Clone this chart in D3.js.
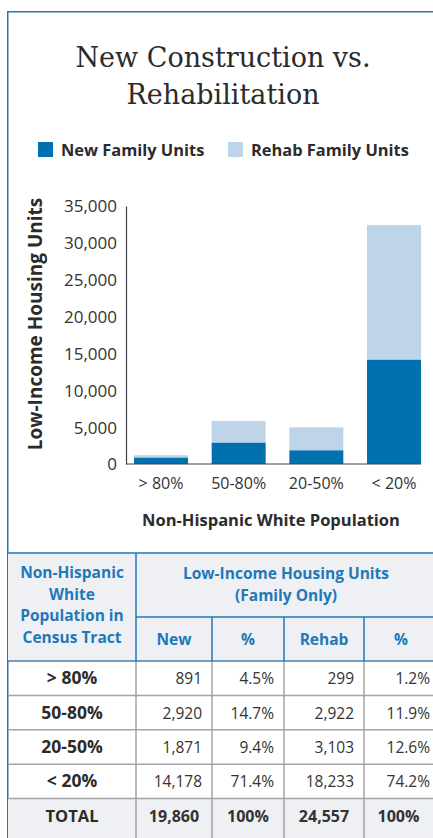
<!DOCTYPE html>
<html>
<head>
<meta charset="utf-8">
<script src="https://cdn.jsdelivr.net/npm/d3@7"></script>
<style>
  html, body { margin: 0; padding: 0; background: #fff; }
  svg { display: block; }
</style>
</head>
<body>
<svg id="chart" width="433" height="838"></svg>
<script>
// Census-tract groups by share of non-Hispanic white population
const categories = ["> 80%", "50-80%", "20-50%", "< 20%"];
// Low-income family housing units
const newUnits = [891, 2920, 1871, 14178];
const rehabUnits = [299, 2922, 3103, 18233];
const yTicks = [0, 5000, 10000, 15000, 20000, 25000, 30000, 35000];
const seriesNames = ["New Family Units", "Rehab Family Units"];
const seriesColors = ["#0071ae", "#bed5e9"];

const svg = d3.select("#chart");
const W = 433;
const sans = "'Open Sans', sans-serif";
const ink = "#2b2b2b";
const blue = "#1f78b8";

// frame
svg.append("path")
  .attr("d", `M7.75,838 V11.75 H433`)
  .attr("fill", "none").attr("stroke", blue).attr("stroke-width", 1.5);

// title
const title = svg.append("text")
  .attr("text-anchor", "middle")
  .attr("font-family", "'DejaVu Serif', serif")
  .attr("font-size", 27)
  .attr("fill", ink);
title.append("tspan").attr("x", 223).attr("y", 67).text("New Construction vs.");
title.append("tspan").attr("x", 223).attr("y", 104).text("Rehabilitation");

// legend
const legendX = [38, 228];
seriesNames.forEach((name, i) => {
  svg.append("rect").attr("x", legendX[i]).attr("y", 142)
    .attr("width", 15).attr("height", 15).attr("fill", seriesColors[i]);
  svg.append("text").attr("x", legendX[i] + 23).attr("y", 156)
    .attr("font-family", sans).attr("font-weight", 700).attr("font-size", 16.4)
    .attr("fill", ink).text(name);
});

// chart scales
const x = d3.scaleBand().domain(categories).range([126, 429]).paddingInner(0.305).paddingOuter(0.103);
const y = d3.scaleLinear().domain([0, 35000]).range([464, 206]);

const stackData = categories.map((c, i) => ({ cat: c, newU: newUnits[i], rehab: rehabUnits[i] }));
const stacked = d3.stack().keys(["newU", "rehab"])(stackData);

svg.append("g").selectAll("g").data(stacked).join("g")
  .attr("fill", (d, i) => seriesColors[i])
  .selectAll("rect").data(d => d).join("rect")
  .attr("x", d => x(d.data.cat))
  .attr("width", x.bandwidth())
  .attr("y", d => y(d[1]))
  .attr("height", d => y(d[0]) - y(d[1]));

// y axis
const yAxis = svg.append("g").attr("transform", "translate(126,0)")
  .call(d3.axisLeft(y).tickValues(yTicks).tickSize(0).tickPadding(9).tickFormat(d3.format(",")));
yAxis.select(".domain").attr("stroke", "#444").attr("stroke-width", 1.2);
yAxis.selectAll("text").attr("font-family", sans).attr("font-weight", 400).attr("font-size", 17)
  .attr("fill", "#333").attr("dy", "0.35em");

// x axis
const xAxis = svg.append("g").attr("transform", "translate(0,464)")
  .call(d3.axisBottom(x).tickSize(0).tickPadding(14));
xAxis.select(".domain").attr("d", "M126,0H421").attr("stroke", "#444").attr("stroke-width", 1.2);
xAxis.selectAll("text").attr("font-family", sans).attr("font-weight", 400).attr("font-size", 16).attr("fill", "#333");

// axis titles
svg.append("text").attr("x", 271).attr("y", 526).attr("text-anchor", "middle")
  .attr("font-family", sans).attr("font-weight", 700).attr("font-size", 16.5)
  .attr("fill", ink).text("Non-Hispanic White Population");
svg.append("text").attr("transform", "translate(42,324) rotate(-90)")
  .attr("text-anchor", "middle")
  .attr("font-family", sans).attr("font-weight", 700).attr("font-size", 19)
  .attr("fill", ink).text("Low-Income Housing Units");

// ---- table ----
const totalNew = d3.sum(newUnits);
const totalRehab = d3.sum(rehabUnits);
const fmt = d3.format(",");
const pct = v => d3.format(".1f")(v) + "%";

const colX = [8, 136, 212, 284, 364, 440];
const headTop = 553, headMid = 617, headBot = 661;
const rowH = 34.4;
const headBg = "#eef0f3";
const gridGrey = "#a3a3a3";

const tbl = svg.append("g");
tbl.append("rect").attr("x", 8).attr("y", headTop).attr("width", W - 8).attr("height", headBot - headTop).attr("fill", headBg);

const rows = categories.map((c, i) => ({
  label: c,
  cells: [fmt(newUnits[i]), pct(newUnits[i] / totalNew * 100), fmt(rehabUnits[i]), pct(rehabUnits[i] / totalRehab * 100)],
  total: false
}));
rows.push({ label: "TOTAL", cells: [fmt(totalNew), "100%", fmt(totalRehab), "100%"], total: true });

rows.forEach((r, i) => {
  const top = headBot + i * rowH;
  if (r.total) {
    tbl.append("rect").attr("x", 8).attr("y", top).attr("width", W - 8).attr("height", 838 - top).attr("fill", headBg);
  }
  tbl.append("text").attr("x", (colX[0] + colX[1]) / 2).attr("y", top + rowH / 2 + 6)
    .attr("text-anchor", "middle").attr("font-family", sans).attr("font-weight", 700)
    .attr("font-size", r.total ? 16.5 : 17.5).attr("fill", ink).text(r.label);
  r.cells.forEach((v, j) => {
    tbl.append("text").attr("x", r.total ? (colX[j + 1] + Math.min(colX[j + 2], W)) / 2 : colX[j + 2] - 10)
      .attr("y", top + rowH / 2 + 6)
      .attr("text-anchor", r.total ? "middle" : "end")
      .attr("font-family", sans).attr("font-weight", r.total ? 700 : 400)
      .attr("font-size", r.total ? 16 : 15.5).attr("fill", "#333").text(v);
  });
  // row separator
  if (i > 0) {
    tbl.append("line").attr("x1", 8).attr("x2", W).attr("y1", top).attr("y2", top)
      .attr("stroke", gridGrey).attr("stroke-width", 1.5);
  }
});

// body vertical lines
colX.slice(1, 5).forEach(cx => {
  tbl.append("line").attr("x1", cx).attr("x2", cx).attr("y1", headBot).attr("y2", 838)
    .attr("stroke", gridGrey).attr("stroke-width", 1.5);
});

// header lines
tbl.append("line").attr("x1", 8).attr("x2", W).attr("y1", headTop).attr("y2", headTop)
  .attr("stroke", blue).attr("stroke-width", 1.5);
tbl.append("line").attr("x1", 136).attr("x2", W).attr("y1", headMid).attr("y2", headMid)
  .attr("stroke", blue).attr("stroke-width", 1.5);
tbl.append("line").attr("x1", 8).attr("x2", W).attr("y1", headBot).attr("y2", headBot)
  .attr("stroke", "#4a7ea8").attr("stroke-width", 1.5);
tbl.append("line").attr("x1", 136).attr("x2", 136).attr("y1", headTop).attr("y2", headBot)
  .attr("stroke", blue).attr("stroke-width", 1.5);
colX.slice(2, 5).forEach(cx => {
  tbl.append("line").attr("x1", cx).attr("x2", cx).attr("y1", headMid).attr("y2", headBot)
    .attr("stroke", blue).attr("stroke-width", 1.5);
});

// header text
const headFont = (sel) => sel.attr("font-family", sans).attr("font-weight", 700)
  .attr("font-size", 15.5).attr("fill", blue).attr("text-anchor", "middle");
const h1 = headFont(tbl.append("text"));
["Non-Hispanic", "White", "Population in", "Census Tract"].forEach((t, i) => {
  h1.append("tspan").attr("x", 72).attr("y", 578 + i * 21.5).text(t);
});
const h2 = headFont(tbl.append("text"));
["Low-Income Housing Units", "(Family Only)"].forEach((t, i) => {
  h2.append("tspan").attr("x", 286).attr("y", 579 + i * 21.5).text(t);
});
["New", "%", "Rehab", "%"].forEach((t, j) => {
  headFont(tbl.append("text")).attr("x", (colX[j + 1] + Math.min(colX[j + 2], W + 5)) / 2)
    .attr("y", 645).text(t);
});
</script>
</body>
</html>
